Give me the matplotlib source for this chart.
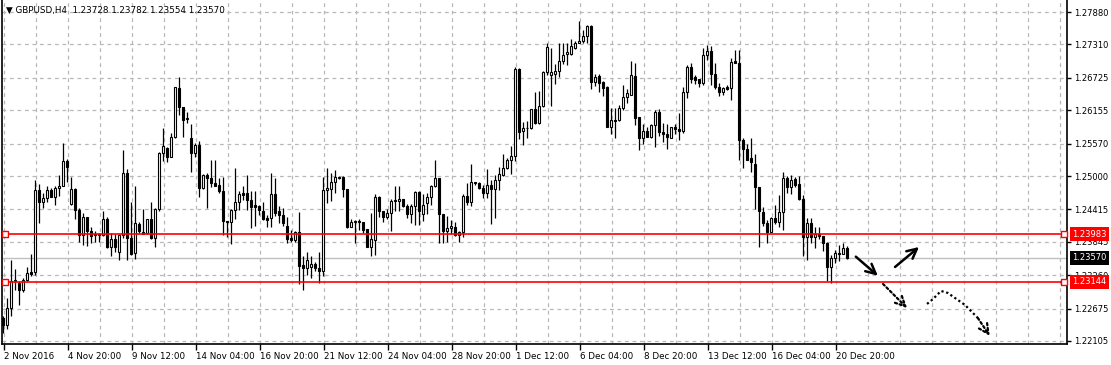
import numpy as np
import matplotlib.pyplot as plt
import matplotlib.transforms as mtransforms

# GBPUSD H4 candles, prices in pips (1.2345 -> 12345)
opens = [12250, 12238, 12268, 12315, 12313, 12300, 12317, 12331, 12331, 12476,
         12454, 12461, 12476, 12464, 12479, 12483, 12527, 12451, 12477, 12441,
         12396, 12428, 12403, 12396, 12399, 12397, 12424, 12376, 12389, 12366,
         12397, 12505, 12391, 12365, 12416, 12402, 12400, 12424, 12391, 12442,
         12541, 12549, 12534, 12568, 12654, 12621, 12601, 12567, 12541, 12555,
         12479, 12502, 12496, 12488, 12485, 12474, 12422, 12420, 12441, 12454,
         12470, 12471, 12458, 12449, 12447, 12439, 12426, 12426, 12468, 12439,
         12432, 12413, 12391, 12388, 12402, 12344, 12338, 12340, 12346, 12338,
         12333, 12476, 12478, 12489, 12499, 12498, 12477, 12411, 12419, 12422,
         12420, 12407, 12375, 12388, 12464, 12439, 12428, 12435, 12458, 12457,
         12460, 12447, 12434, 12448, 12472, 12434, 12452, 12464, 12483, 12497,
         12434, 12404, 12409, 12411, 12396, 12401, 12465, 12454, 12490, 12487,
         12479, 12471, 12484, 12477, 12493, 12502, 12514, 12528, 12536, 12688,
         12579, 12585, 12584, 12617, 12594, 12623, 12682, 12677, 12680, 12684,
         12702, 12714, 12715, 12724, 12733, 12737, 12746, 12764, 12666, 12676,
         12665, 12657, 12586, 12598, 12598, 12619, 12639, 12643, 12676, 12604,
         12566, 12579, 12569, 12589, 12613, 12578, 12573, 12567, 12586, 12582,
         12579, 12648, 12692, 12674, 12671, 12664, 12713, 12720, 12680, 12657,
         12648, 12656, 12654, 12702, 12698, 12563, 12547, 12531, 12522, 12480,
         12437, 12417, 12402, 12426, 12420, 12437, 12496, 12481, 12494, 12486,
         12459, 12393, 12418, 12393, 12398, 12394, 12383, 12340, 12357, 12365,
         12364, 12373]
highs = [12255, 12286, 12353, 12337, 12315, 12321, 12340, 12364, 12493, 12486,
         12470, 12482, 12479, 12482, 12502, 12558, 12530, 12498, 12479, 12444,
         12435, 12429, 12411, 12404, 12400, 12438, 12429, 12400, 12399, 12399,
         12546, 12512, 12454, 12483, 12419, 12442, 12425, 12455, 12444, 12543,
         12584, 12551, 12575, 12657, 12674, 12622, 12613, 12592, 12558, 12561,
         12504, 12505, 12528, 12528, 12496, 12499, 12422, 12442, 12514, 12474,
         12482, 12502, 12473, 12473, 12450, 12454, 12432, 12505, 12496, 12447,
         12444, 12429, 12406, 12403, 12437, 12359, 12366, 12359, 12350, 12366,
         12499, 12514, 12505, 12511, 12500, 12500, 12477, 12424, 12423, 12424,
         12420, 12407, 12435, 12468, 12465, 12439, 12442, 12459, 12482, 12483,
         12460, 12451, 12451, 12473, 12473, 12468, 12470, 12484, 12528, 12497,
         12434, 12430, 12423, 12420, 12403, 12468, 12487, 12522, 12490, 12490,
         12484, 12512, 12493, 12502, 12516, 12538, 12531, 12553, 12692, 12690,
         12595, 12596, 12618, 12647, 12649, 12684, 12734, 12725, 12696, 12734,
         12733, 12733, 12740, 12737, 12772, 12756, 12766, 12766, 12680, 12680,
         12667, 12658, 12619, 12619, 12625, 12660, 12653, 12702, 12698, 12604,
         12592, 12587, 12592, 12616, 12618, 12594, 12592, 12587, 12592, 12610,
         12657, 12695, 12698, 12678, 12671, 12724, 12730, 12728, 12698, 12664,
         12657, 12660, 12707, 12721, 12721, 12566, 12557, 12566, 12539, 12481,
         12445, 12423, 12429, 12449, 12466, 12508, 12500, 12502, 12499, 12500,
         12467, 12426, 12426, 12411, 12411, 12395, 12385, 12361, 12371, 12379,
         12382, 12378]
lows = [12225, 12231, 12254, 12300, 12274, 12296, 12315, 12324, 12327, 12417,
        12444, 12455, 12463, 12449, 12465, 12482, 12490, 12450, 12424, 12385,
        12379, 12378, 12383, 12385, 12385, 12394, 12374, 12360, 12366, 12352,
        12391, 12352, 12362, 12355, 12400, 12398, 12399, 12390, 12376, 12438,
        12527, 12524, 12533, 12566, 12607, 12568, 12593, 12508, 12534, 12463,
        12477, 12444, 12480, 12483, 12470, 12396, 12393, 12380, 12425, 12441,
        12458, 12441, 12409, 12413, 12431, 12423, 12410, 12411, 12430, 12417,
        12413, 12383, 12385, 12385, 12311, 12300, 12327, 12321, 12333, 12312,
        12324, 12452, 12457, 12471, 12495, 12464, 12409, 12411, 12383, 12406,
        12400, 12375, 12359, 12362, 12428, 12420, 12424, 12403, 12438, 12438,
        12445, 12426, 12417, 12414, 12414, 12421, 12434, 12450, 12481, 12382,
        12382, 12385, 12398, 12395, 12385, 12393, 12449, 12448, 12484, 12478,
        12461, 12462, 12415, 12426, 12475, 12500, 12512, 12503, 12526, 12565,
        12555, 12566, 12583, 12591, 12592, 12621, 12677, 12623, 12661, 12674,
        12696, 12695, 12712, 12723, 12733, 12733, 12733, 12653, 12658, 12647,
        12641, 12586, 12573, 12566, 12596, 12616, 12628, 12642, 12589, 12546,
        12557, 12569, 12567, 12551, 12571, 12559, 12548, 12566, 12573, 12563,
        12575, 12637, 12664, 12661, 12657, 12660, 12704, 12660, 12652, 12640,
        12642, 12651, 12634, 12698, 12529, 12514, 12529, 12508, 12443, 12375,
        12412, 12383, 12401, 12416, 12411, 12405, 12470, 12468, 12481, 12458,
        12359, 12353, 12382, 12373, 12389, 12369, 12315, 12312, 12348, 12351,
        12363, 12355]
closes = [12238, 12268, 12315, 12318, 12300, 12317, 12330, 12328, 12476, 12454,
          12461, 12476, 12464, 12479, 12483, 12527, 12516, 12477, 12440, 12396,
          12428, 12403, 12394, 12398, 12396, 12424, 12376, 12389, 12376, 12397,
          12505, 12391, 12364, 12417, 12404, 12399, 12424, 12391, 12442, 12541,
          12553, 12534, 12568, 12656, 12621, 12599, 12602, 12541, 12555, 12479,
          12502, 12496, 12488, 12483, 12473, 12422, 12420, 12441, 12454, 12468,
          12467, 12458, 12445, 12445, 12440, 12424, 12423, 12468, 12436, 12431,
          12417, 12389, 12388, 12402, 12343, 12338, 12353, 12346, 12338, 12333,
          12476, 12479, 12489, 12499, 12497, 12477, 12411, 12419, 12422, 12420,
          12406, 12375, 12390, 12464, 12438, 12428, 12436, 12457, 12457, 12460,
          12447, 12434, 12448, 12472, 12438, 12450, 12464, 12483, 12497, 12434,
          12404, 12409, 12413, 12396, 12402, 12465, 12454, 12489, 12487, 12479,
          12471, 12484, 12477, 12493, 12503, 12515, 12528, 12536, 12688, 12577,
          12585, 12584, 12617, 12594, 12623, 12683, 12727, 12682, 12684, 12702,
          12713, 12717, 12729, 12733, 12737, 12746, 12764, 12666, 12674, 12664,
          12655, 12586, 12598, 12597, 12619, 12639, 12645, 12677, 12602, 12566,
          12579, 12569, 12589, 12613, 12578, 12573, 12569, 12586, 12582, 12579,
          12648, 12692, 12671, 12668, 12664, 12713, 12720, 12680, 12657, 12648,
          12654, 12652, 12700, 12698, 12563, 12547, 12529, 12524, 12480, 12439,
          12417, 12402, 12426, 12420, 12437, 12496, 12481, 12493, 12484, 12459,
          12393, 12418, 12393, 12398, 12394, 12383, 12340, 12357, 12365, 12363,
          12373, 12357]

header_ohlc = [1.23728, 1.23782, 1.23554, 1.23570]
x_labels = ["2 Nov 2016", "4 Nov 20:00", "9 Nov 12:00", "14 Nov 04:00", "16 Nov 20:00",
            "21 Nov 12:00", "24 Nov 04:00", "28 Nov 20:00", "1 Dec 12:00", "6 Dec 04:00",
            "8 Dec 20:00", "13 Dec 12:00", "16 Dec 04:00", "20 Dec 20:00"]
y_ticks = [1.27880, 1.27310, 1.26725, 1.26155, 1.25570, 1.25000, 1.24415,
           1.23845, 1.23260, 1.22675, 1.22105]
levels = [1.23983, 1.23144]
bid = 1.23570

# hand drawn forecast arrows (bar index, price)
solid_arrows = [((213.3, 1.23585), (218.8, 1.23251)),
                ((223.1, 1.23404), (229.1, 1.23755))]
dotted_arrow = ((220.1, 1.23106), (226.1, 1.22684))
path_x = [231.1, 232.6, 234.6, 236.3, 240.6, 243.8, 246.8]
path_y = [1.22755, 1.22842, 1.22983, 1.22948, 1.22737, 1.22509, 1.22193]

o = np.array(opens) / 1e4
h = np.array(highs) / 1e4
l = np.array(lows) / 1e4
c = np.array(closes) / 1e4
idx = np.arange(len(o))

plt.rcParams['font.family'] = ['DejaVu Sans']
fig = plt.figure(figsize=(11.11, 3.65), dpi=100)
ax = fig.add_axes([2 / 1111, 21 / 365, 1065 / 1111, 344 / 365])
ax.set_xlim(-0.2, 266.1)
ax.set_ylim(1.22052, 1.28091)

grid_kw = dict(color='#b8b8b8', lw=0.9, ls=(0, (3, 3)), zorder=1)
for gx in np.arange(0.25, 266, 8):
    ax.axvline(gx, **grid_kw)
for yt in y_ticks:
    ax.axhline(yt, **grid_kw)

# candles
ax.vlines(idx, l, h, color='black', lw=0.9, zorder=3)
up = c >= o
ax.bar(idx[up], (c - o)[up], bottom=o[up], width=0.55, facecolor='white',
       edgecolor='black', lw=0.8, zorder=4)
ax.bar(idx[~up], (o - c)[~up], bottom=c[~up], width=0.55, facecolor='black',
       edgecolor='black', lw=0.8, zorder=4)

# bid line and support / resistance
ax.axhline(bid, color='#c0c0c0', lw=1, zorder=2)
blend = mtransforms.blended_transform_factory(ax.transAxes, ax.transData)
for lv in levels:
    ax.axhline(lv, color='red', lw=1.2, zorder=5)
    ax.plot([0.003, 0.9975], [lv, lv], 's', ms=4, mfc='white', mec='red', mew=1,
            transform=blend, zorder=6, clip_on=False)

# arrows
head = '->,head_length=0.7,head_width=0.35'
for (x0, y0), (x1, y1) in solid_arrows:
    ax.annotate('', xy=(x1, y1), xytext=(x0, y0),
                arrowprops=dict(arrowstyle=head, color='black', lw=1.8,
                                shrinkA=0, shrinkB=0))
(x0, y0), (x1, y1) = dotted_arrow
ax.annotate('', xy=(x1, y1), xytext=(x0, y0),
            arrowprops=dict(arrowstyle=head, color='black', lw=1.6,
                            ls=(0, (1, 1.2)), shrinkA=0, shrinkB=0))
ax.plot(path_x[:-1], path_y[:-1], color='black', lw=1.6, ls=(0, (1, 1.2)))
ax.annotate('', xy=(path_x[-1], path_y[-1]), xytext=(path_x[-2], path_y[-2]),
            arrowprops=dict(arrowstyle=head, color='black', lw=1.6,
                            ls=(0, (1, 1.2)), shrinkA=0, shrinkB=0))

# axes look
ax.spines['top'].set_visible(False)
for s in ['left', 'bottom', 'right']:
    ax.spines[s].set_linewidth(1.2)
ax.set_xticks(np.arange(0.25, 0.25 + 16 * len(x_labels), 16))
ax.set_xticklabels(x_labels)
for lbl in ax.get_xticklabels():
    lbl.set_ha('left')
ax.tick_params(axis='x', length=4, width=1, labelsize=6.3, pad=2)
ax.yaxis.tick_right()
ax.set_yticks(y_ticks)
ax.set_yticklabels([f'{v:.5f}' for v in y_ticks])
ax.tick_params(axis='y', length=3, width=1, labelsize=6, pad=2)

# price tags on the scale
tag_kw = dict(transform=blend, color='white', fontsize=6, va='center', ha='left',
              zorder=10, clip_on=False)
for lv in levels:
    ax.text(1.0048, lv, f'{lv:.5f}', **tag_kw,
            bbox=dict(facecolor='red', edgecolor='none', pad=1.8))
ax.text(1.0048, bid, f'{bid:.5f}', **tag_kw,
        bbox=dict(facecolor='black', edgecolor='none', pad=1.8))

ax.text(0.004, 0.982, '\u25BC GBPUSD,H4  ' + ' '.join(f'{v:.5f}' for v in header_ohlc),
        transform=ax.transAxes, fontsize=6.3, va='top', ha='left', zorder=10)

fig.savefig('out.png', dpi=100)
